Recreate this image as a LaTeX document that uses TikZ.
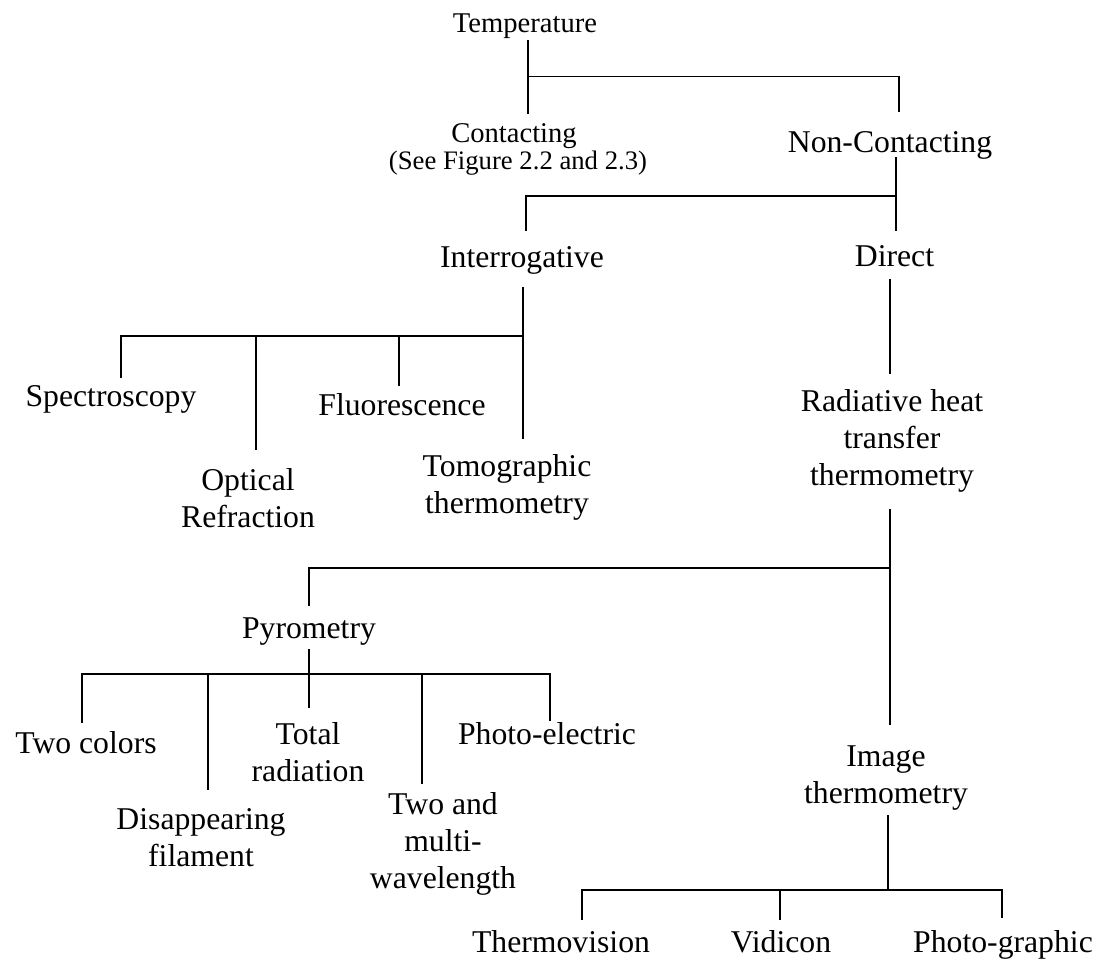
\documentclass[tikz,border=0pt]{standalone}
\usepackage{fontspec}
\setmainfont{Liberation Serif}
\begin{document}
\begin{tikzpicture}[x=1pt,y=-1pt,
  lbl/.style={inner sep=0pt,anchor=base,align=center,font=\fontsize{31.7}{36.6}\selectfont},
  small/.style={lbl,font=\fontsize{28.6}{30}\selectfont},
  note/.style={lbl,font=\fontsize{26.7}{28}\selectfont},
  conn/.style={line width=1.6pt,line cap=rect}]
\useasboundingbox (0,0) rectangle (1102,960);

% ---- labels (multi-line labels sit on the baseline of their last line) ----
\node[small] (temp)    at (525,33)   {Temperature};
\node[small] (cont)    at (514,143)  {Contacting};
\node[note]  (contref) at (518,170)  {(See Figure 2.2 and 2.3)};
\node[lbl]   (noncont) at (890,153)  {Non-Contacting};
\node[lbl]   (interr)  at (522,267)  {Interrogative};
\node[lbl]   (direct)  at (894.5,266){Direct};
\node[lbl]   (spec)    at (111,406)  {Spectroscopy};
\node[lbl]   (fluor)   at (402,415)  {Fluorescence};
\node[lbl]   (optic)   at (248,527)  {Optical\\Refraction};
\node[lbl]   (tomo)    at (507,513)  {Tomographic\\thermometry};
\node[lbl]   (rad)     at (892,485)  {Radiative heat\\transfer\\thermometry};
\node[lbl]   (pyro)    at (309,638)  {Pyrometry};
\node[lbl]   (twocol)  at (86,753)   {Two colors};
\node[lbl]   (total)   at (308,781)  {Total\\radiation};
\node[lbl]   (disap)   at (201,866)  {Disappearing\\filament};
\node[lbl]   (multi)   at (443,888)  {Two and\\multi-\\wavelength};
\node[lbl]   (photoel) at (547,744)  {Photo-electric};
\node[lbl]   (image)   at (886,803)  {Image\\thermometry};
\node[lbl]   (thermov) at (561,952)  {Thermovision};
\node[lbl]   (vidicon) at (781,952)  {Vidicon};
\node[lbl]   (photog)  at (1003,952) {Photo-graphic};

% ---- connector end points and junctions ----
\coordinate (temp-o)  at (527.7,41);
\coordinate (temp-j)  at (527.7,76.7);
\coordinate (cont-i)  at (527.7,113);
\coordinate (ncon-j)  at (899,76.7);
\coordinate (ncon-i)  at (899,111);

\coordinate (ncon-o)  at (896,158);
\coordinate (ncon-j2) at (896,196);
\coordinate (dir-i)   at (896,230);
\coordinate (int-j)   at (526,196);
\coordinate (int-i)   at (526,230);

\coordinate (int-o)   at (523,288);
\coordinate (int-j2)  at (523,336);
\coordinate (tomo-i)  at (523,438);
\coordinate (spec-j)  at (121,336);
\coordinate (spec-i)  at (121,377);
\coordinate (opt-j)   at (256,336);
\coordinate (opt-i)   at (256,449);
\coordinate (flu-j)   at (399,336);
\coordinate (flu-i)   at (399,385);

\coordinate (dir-o)   at (890,280);
\coordinate (rad-i)   at (890,373);

\coordinate (rad-o)   at (890,510);
\coordinate (rad-j)   at (890,568);
\coordinate (img-i)   at (890,724);
\coordinate (pyr-j)   at (309,568);
\coordinate (pyr-i)   at (309,605);

\coordinate (pyr-o)   at (309,650);
\coordinate (pyr-j2)  at (309,674);
\coordinate (tot-i)   at (309,707);
\coordinate (two-j)   at (82,674);
\coordinate (two-i)   at (82,722);
\coordinate (dis-j)   at (208,674);
\coordinate (dis-i)   at (208,789);
\coordinate (mul-j)   at (422,674);
\coordinate (mul-i)   at (422,783);
\coordinate (pel-j)   at (550,674);
\coordinate (pel-i)   at (550,720);

\coordinate (img-o)   at (888,816);
\coordinate (img-j)   at (888,890);
\coordinate (thv-j)   at (582,890);
\coordinate (thv-i)   at (582,919);
\coordinate (vid-j)   at (780,890);
\coordinate (vid-i)   at (780,919);
\coordinate (phg-j)   at (1002,890);
\coordinate (phg-i)   at (1002,917);

% ---- connectors ----
% Temperature
\draw[conn] (temp-o) -- (cont-i);
\draw[conn] (temp-j) -- (ncon-j) -- (ncon-i);
% Non-Contacting
\draw[conn] (ncon-o) -- (dir-i);
\draw[conn] (int-i) -- (int-j) -- (ncon-j2);
% Interrogative
\draw[conn] (int-o) -- (tomo-i);
\draw[conn] (spec-i) -- (spec-j) -- (int-j2);
\draw[conn] (opt-j) -- (opt-i);
\draw[conn] (flu-j) -- (flu-i);
% Direct
\draw[conn] (dir-o) -- (rad-i);
% Radiative heat transfer thermometry
\draw[conn] (rad-o) -- (img-i);
\draw[conn] (pyr-i) -- (pyr-j) -- (rad-j);
% Pyrometry
\draw[conn] (pyr-o) -- (tot-i);
\draw[conn] (two-i) -- (two-j) -- (pel-j) -- (pel-i);
\draw[conn] (dis-j) -- (dis-i);
\draw[conn] (mul-j) -- (mul-i);
% Image thermometry
\draw[conn] (img-o) -- (img-j);
\draw[conn] (thv-i) -- (thv-j) -- (phg-j) -- (phg-i);
\draw[conn] (vid-j) -- (vid-i);
\end{tikzpicture}
\end{document}
